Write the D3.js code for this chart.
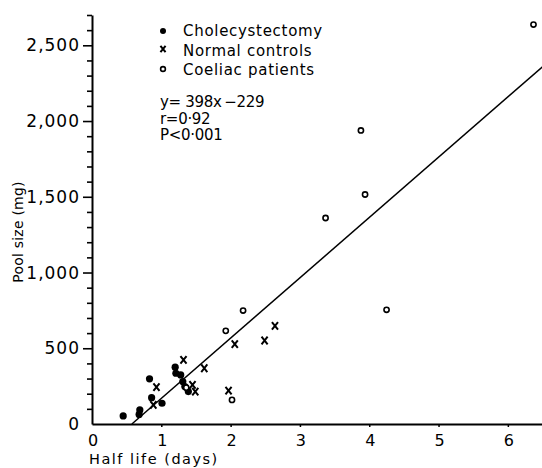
<!DOCTYPE html>
<html><head><meta charset="utf-8">
<script src="https://cdn.jsdelivr.net/npm/d3@7"></script>
<style>
body{margin:0;background:#fff;}
svg{display:block;}
text{font-family:"DejaVu Sans",sans-serif;fill:#000;}
</style></head>
<body><svg id="c" width="542" height="468"></svg>
<script>
// Cholecystectomy (filled circles): [half life days, pool size mg]
const cholecystectomy = [[0.45,53],[0.69,93],[0.68,63],[0.83,298],[0.86,174],[1.01,137],[1.20,375],[1.21,335],[1.28,324],[1.31,280],[1.34,247],[1.39,214]];
// Normal controls (x)
const normalControls = [[0.93,243],[0.885,126],[1.32,423],[1.45,258],[1.49,214],[1.62,368],[1.97,220],[2.06,527],[2.49,551],[2.64,648]];
// Coeliac patients (open circles)
const coeliac = [[1.36,240],[1.93,615],[2.02,159],[2.18,749],[3.37,1360],[3.88,1938],[3.94,1515],[4.25,754],[6.37,2637]];
const xTicks = [0,1,2,3,4,5,6];
const yMajor = [0,500,1000,1500,2000,2500];
const yLabels = {0:"0",500:"500",1000:"1,000",1500:"1,500",2000:"2,000",2500:"2,500"};
const slope = 398, intercept = -229;
const legendItems = ["Cholecystectomy","Normal controls","Coeliac patients"];
const statLines = ["y= 398x\u2009\u2212229","r=0\u00b792","P<0\u00b7001"];

const svg = d3.select("#c");
const x = d3.scaleLinear().domain([0,6.5]).range([92,542.5]);
const y = d3.scaleLinear().domain([0,2700]).range([424,15]);

// Y axis
const yTickVals = d3.range(100,2701,100);
const yAxis = svg.append("g").attr("transform","translate(92,0)")
  .call(d3.axisLeft(y).tickValues(yTickVals).tickSize(5).tickSizeOuter(0).tickFormat(()=>""));
yAxis.select(".domain").attr("stroke","#000").attr("stroke-width",2);
yAxis.selectAll(".tick line").attr("stroke","#000").attr("stroke-width",1.6)
  .attr("x2",d=> d%500===0 ? -9 : -5);
svg.append("g").selectAll("text").data(yMajor).join("text")
  .attr("x",80).attr("y",d=>y(d)+6).attr("text-anchor","end")
  .attr("font-size",17).attr("letter-spacing",1).text(d=>yLabels[d]);

// X axis
const xAxis = svg.append("g").attr("transform","translate(0,424)")
  .call(d3.axisBottom(x).tickValues(xTicks).tickSize(3).tickSizeOuter(0).tickFormat(""));
xAxis.select(".domain").attr("stroke","#000").attr("stroke-width",2);
xAxis.selectAll(".tick line").attr("stroke","#000").attr("stroke-width",1.5);
xAxis.selectAll(".tick line").filter(d=>d===0).remove();
svg.append("g").selectAll("text").data(xTicks).join("text")
  .attr("x",d=>x(d)+1).attr("y",446).attr("text-anchor","middle")
  .attr("font-size",16).text(d=>d);

// Axis titles
svg.append("text").attr("x",89).attr("y",464).attr("font-size",14.5)
  .attr("letter-spacing",1.5).text("Half life (days)");
svg.append("text").attr("transform","translate(23,232) rotate(-90)")
  .attr("text-anchor","middle").attr("font-size",14).attr("letter-spacing",0.2).text("Pool size (mg)");

// Regression line
const x0 = -intercept/slope;
svg.append("line").attr("x1",x(x0)).attr("y1",y(0)).attr("x2",x(6.5)).attr("y2",y(slope*6.5+intercept))
  .attr("stroke","#000").attr("stroke-width",1.5);

// Points
function cross(g, cx, cy, s){
  g.append("path").attr("d",`M${cx-s*0.8},${cy-s}L${cx+s*0.8},${cy+s}M${cx+s*0.8},${cy-s}L${cx-s*0.8},${cy+s}`)
   .attr("stroke","#000").attr("stroke-width",2).attr("fill","none");
}
const pts = svg.append("g");
pts.selectAll("circle.f").data(cholecystectomy).join("circle").attr("class","f")
  .attr("cx",d=>x(d[0])).attr("cy",d=>y(d[1])).attr("r",3.6).attr("fill","#000");
normalControls.forEach(d=>cross(pts,x(d[0]),y(d[1]),3.8));
pts.selectAll("circle.o").data(coeliac).join("circle").attr("class","o")
  .attr("cx",d=>x(d[0])).attr("cy",d=>y(d[1])).attr("r",2.6)
  .attr("fill","#fff").attr("stroke","#000").attr("stroke-width",1.6);

// Legend
const lg = svg.append("g");
lg.append("circle").attr("cx",163).attr("cy",31).attr("r",3).attr("fill","#000");
cross(lg,163,49,3.2);
lg.append("circle").attr("cx",163).attr("cy",69).attr("r",2.4).attr("fill","none").attr("stroke","#000").attr("stroke-width",1.6);
lg.selectAll("text").data(legendItems).join("text")
  .attr("x",183).attr("y",(d,i)=>36+i*19.5).attr("font-size",15).attr("letter-spacing",0.7).text(d=>d);
svg.append("g").selectAll("text").data(statLines).join("text")
  .attr("x",160).attr("y",(d,i)=>107+i*16.5).attr("font-size",15).attr("letter-spacing",-0.3).text(d=>d);
</script></body></html>
